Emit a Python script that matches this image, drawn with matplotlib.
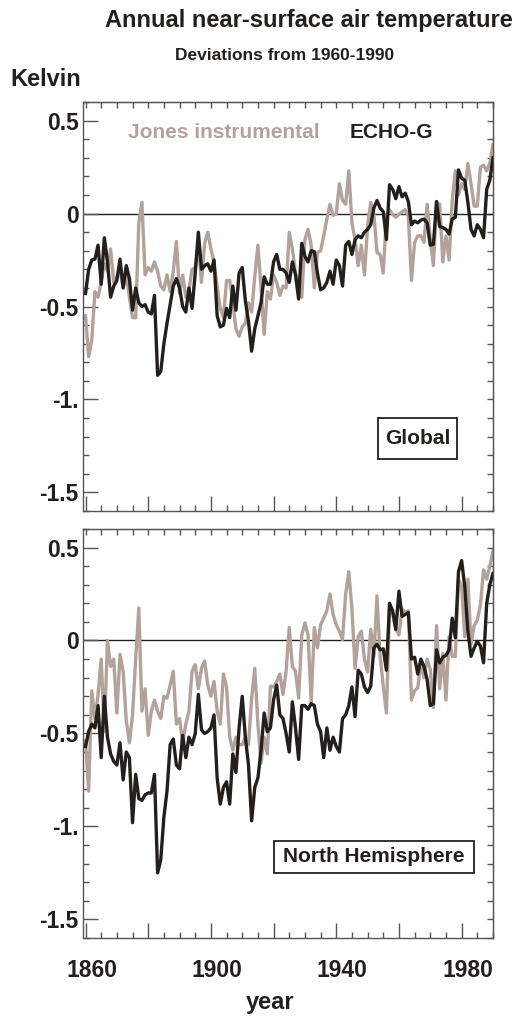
import numpy as np
import matplotlib
matplotlib.use("Agg")
from matplotlib import pyplot as plt
import matplotlib.transforms as mtransforms
from matplotlib.patches import Rectangle

plt.rcParams['font.family'] = ['Liberation Sans', 'DejaVu Sans']
plt.rcParams['font.weight'] = 'bold'

years = np.arange(1860, 1991)

# global, Jones instrumental (grey)
glob_jones = [
    -0.55, -0.77, -0.68, -0.42, -0.45, -0.37, -0.27, -0.31, -0.19, -0.37,   # 1860s
    -0.34, -0.30, -0.40, -0.33, -0.45, -0.56, -0.56, -0.05, 0.06, -0.33,    # 1870s
    -0.29, -0.31, -0.26, -0.31, -0.39, -0.41, -0.33, -0.42, -0.31, -0.15,   # 1880s
    -0.43, -0.33, -0.45, -0.41, -0.30, -0.29, -0.16, -0.37, -0.16, -0.10,   # 1890s
    -0.19, -0.26, -0.39, -0.51, -0.56, -0.36, -0.36, -0.48, -0.62, -0.66,   # 1900s
    -0.61, -0.59, -0.48, -0.53, -0.34, -0.17, -0.40, -0.65, -0.42, -0.46,   # 1910s
    -0.33, -0.37, -0.44, -0.39, -0.40, -0.10, -0.19, -0.32, -0.37, -0.45,   # 1920s
    -0.14, -0.085, -0.17, -0.40, -0.21, -0.20, -0.12, -0.03, 0.05, -0.01,   # 1930s
    0.00, 0.16, 0.07, 0.05, 0.23, -0.05, -0.14, -0.28, -0.17, -0.33,        # 1940s
    -0.07, 0.06, 0.00, -0.21, -0.22, -0.32, -0.01, 0.02, -0.005, -0.02,     # 1950s
    -0.005, 0.01, 0.02, -0.015, -0.36, -0.155, -0.12, -0.12, -0.155, 0.05,  # 1960s
    -0.14, -0.28, 0.06, 0.05, -0.26, -0.12, -0.25, 0.07, 0.23, 0.10,        # 1970s
    0.16, 0.13, 0.27, 0.16, 0.04, 0.04, 0.25, 0.26, 0.23, 0.27,             # 1980s
    0.37]

# global, ECHO-G (black)
glob_echo = [
    -0.43, -0.30, -0.25, -0.245, -0.17, -0.38, -0.13, -0.26, -0.45, -0.39,
    -0.36, -0.245, -0.40, -0.28, -0.35, -0.52, -0.40, -0.48, -0.50, -0.49,
    -0.53, -0.54, -0.44, -0.87, -0.85, -0.70, -0.59, -0.49, -0.39, -0.35,
    -0.40, -0.50, -0.53, -0.40, -0.51, -0.32, -0.10, -0.30, -0.28, -0.27,
    -0.31, -0.25, -0.55, -0.61, -0.60, -0.51, -0.56, -0.39, -0.52, -0.32,
    -0.29, -0.47, -0.58, -0.74, -0.62, -0.55, -0.48, -0.34, -0.38, -0.38,
    -0.26, -0.22, -0.30, -0.30, -0.32, -0.37, -0.26, -0.33, -0.46, -0.16,
    -0.23, -0.26, -0.20, -0.205, -0.32, -0.41, -0.40, -0.37, -0.31, -0.38,
    -0.25, -0.28, -0.39, -0.17, -0.15, -0.22, -0.14, -0.12, -0.13, -0.10,
    -0.085, -0.06, 0.03, 0.07, 0.03, 0.01, -0.14, 0.155, 0.13, 0.08,
    0.145, 0.09, 0.11, 0.065, -0.06, -0.04, -0.05, -0.035, -0.03, -0.05,
    -0.17, -0.165, 0.065, -0.07, -0.075, -0.085, -0.11, -0.03, -0.02, 0.235,
    0.19, 0.18, 0.06, -0.085, -0.12, -0.06, -0.085, -0.13, 0.13, 0.18,
    0.30]

# north hemisphere, Jones instrumental (grey)
nh_jones = [
    -0.54, -0.81, -0.27, -0.42, -0.29, -0.10, -0.49, 0.00, -0.14, -0.10,
    -0.39, -0.075, -0.165, -0.43, -0.55, -0.40, -0.10, 0.175, -0.38, -0.26,
    -0.51, -0.38, -0.32, -0.38, -0.42, -0.30, -0.31, -0.24, -0.165, -0.45,
    -0.42, -0.55, -0.45, -0.38, -0.165, -0.13, -0.26, -0.15, -0.11, -0.24,
    -0.30, -0.22, -0.38, -0.45, -0.18, -0.25, -0.52, -0.59, -0.52, -0.56,
    -0.56, -0.52, -0.56, -0.31, -0.15, -0.45, -0.66, -0.52, -0.61, -0.245,
    -0.25, -0.22, -0.18, -0.29, -0.165, 0.07, -0.14, -0.165, -0.31, 0.03,
    0.095, 0.03, -0.33, 0.07, -0.04, 0.085, 0.12, 0.16, 0.25, 0.14,
    0.085, 0.05, 0.005, 0.25, 0.37, 0.17, -0.15, 0.02, 0.05, -0.10,
    -0.17, 0.06, -0.085, 0.24, -0.085, -0.245, -0.39, 0.17, 0.14, 0.06,
    0.03, 0.17, 0.15, 0.16, -0.32, -0.27, -0.255, -0.12, -0.20, -0.10,
    -0.155, -0.36, 0.08, -0.26, -0.07, -0.32, 0.02, -0.085, -0.085, 0.33,
    0.29, 0.02, 0.33, -0.02, 0.08, 0.11, 0.19, 0.38, 0.33, 0.40,
    0.48]

# north hemisphere, ECHO-G (black)
nh_echo = [
    -0.57, -0.49, -0.45, -0.47, -0.35, -0.63, -0.30, -0.52, -0.61, -0.65,
    -0.67, -0.55, -0.75, -0.60, -0.63, -0.98, -0.72, -0.85, -0.86, -0.83,
    -0.82, -0.82, -0.72, -1.25, -1.18, -0.95, -0.81, -0.56, -0.53, -0.67,
    -0.69, -0.51, -0.63, -0.52, -0.56, -0.50, -0.29, -0.48, -0.50, -0.49,
    -0.47, -0.40, -0.74, -0.88, -0.79, -0.76, -0.88, -0.61, -0.71, -0.47,
    -0.30, -0.52, -0.67, -0.97, -0.79, -0.74, -0.59, -0.39, -0.49, -0.47,
    -0.32, -0.24, -0.40, -0.42, -0.50, -0.60, -0.33, -0.47, -0.64, -0.35,
    -0.35, -0.37, -0.34, -0.35, -0.45, -0.49, -0.63, -0.47, -0.59, -0.52,
    -0.57, -0.60, -0.42, -0.40, -0.35, -0.25, -0.41, -0.16, -0.18, -0.25,
    -0.28, -0.245, -0.04, -0.02, -0.05, -0.045, -0.16, 0.20, 0.16, 0.06,
    0.265, 0.13, 0.14, 0.15, -0.10, -0.09, -0.18, -0.10, -0.14, -0.21,
    -0.35, -0.34, -0.05, -0.12, -0.09, -0.08, -0.05, 0.12, 0.015, 0.37,
    0.43, 0.29, 0.05, -0.085, -0.04, -0.005, -0.03, -0.12, 0.20, 0.30,
    0.36]

ytick_vals = [0.5, 0, -0.5, -1.0, -1.5]
ytick_labels = ["0.5", "0", "-0.5", "-1.", "-1.5"]
xtick_labels = ["1860", "", "1900", "", "1940", "", "1980"]

ink = '#231f1c'
grey = '#b3a29c'
frame = '#555555'

W, H = 515, 1017
fig = plt.figure(figsize=(W / 100, H / 100), dpi=100)
ax_top = fig.add_axes([0.1612, 0.4975, 0.796, 0.4022])
ax_bot = fig.add_axes([0.1612, 0.0777, 0.796, 0.4022])


def style_panel(ax, show_x):
    ax.axhline(0, color=ink, lw=1.0, zorder=1)
    ax.set_xlim(1859.2, 1990)
    ax.set_ylim(-1.6, 0.6)
    for s in ax.spines.values():
        s.set_color(frame)
        s.set_linewidth(1.0)
    ax.set_yticks(ytick_vals)
    ax.set_yticklabels(ytick_labels)
    ax.set_yticks(np.arange(-1.6, 0.61, 0.1), minor=True)
    ax.set_xticks(np.arange(1860, 1990, 20))
    ax.set_xticks(np.arange(1860, 1991, 5), minor=True)
    ax.tick_params(which='both', direction='in', color=frame, width=1.0,
                   top=False, right=False, labelsize=16.5)
    ax.tick_params(axis='y', which='major', length=11, pad=3, labelcolor=ink)
    ax.tick_params(axis='y', which='minor', length=4)
    ax.tick_params(axis='x', which='major', length=11, pad=15, labelcolor=ink)
    ax.tick_params(axis='x', which='minor', length=4)
    if show_x:
        ax.set_xticklabels(xtick_labels)
        off = mtransforms.ScaledTranslation(6 / 100, 0, fig.dpi_scale_trans)
        for lab in ax.get_xticklabels():
            lab.set_transform(lab.get_transform() + off)
    else:
        ax.set_xticklabels([])
    # short ticks on the top and right sides
    tx = ax.secondary_xaxis('top')
    tx.set_xticks(np.arange(1860, 1991, 5))
    tx.tick_params(direction='in', length=4, color=frame, width=1.0,
                   labeltop=False)
    tx.spines['top'].set_color(frame)
    ty = ax.secondary_yaxis('right')
    ty.set_yticks(np.arange(-1.6, 0.61, 0.1))
    ty.tick_params(direction='in', length=4, color=frame, width=1.0,
                   labelright=False)
    ty.spines['right'].set_color(frame)


def label_box(x0, y0, x1, y1, text):
    # pixel box measured from the top-left corner of the figure
    fig.patches.append(Rectangle((x0 / W, 1 - y1 / H), (x1 - x0) / W, (y1 - y0) / H,
                                 transform=fig.transFigure, fc='white', ec=ink,
                                 lw=1.3, zorder=5))
    fig.text((x0 + x1) / 2 / W, 1 - (y0 + y1) / 2 / H, text, color=ink,
             fontsize=15, fontweight='bold', ha='center', va='center', zorder=6)


ax_top.plot(years, glob_jones, color=grey, lw=2.4, zorder=2)
ax_top.plot(years, glob_echo, color=ink, lw=2.4, zorder=3)
style_panel(ax_top, False)

ax_bot.plot(years, nh_jones, color=grey, lw=2.4, zorder=2)
ax_bot.plot(years, nh_echo, color=ink, lw=2.4, zorder=3)
style_panel(ax_bot, True)

fig.text(128 / W, 1 - 132 / H, "Jones instrumental",
         color=grey, fontsize=15, fontweight='bold', ha='left', va='center')
fig.text(350 / W, 1 - 132 / H, "ECHO-G",
         color=ink, fontsize=15, fontweight='bold', ha='left', va='center')

label_box(378, 418, 457, 459, "Global")
label_box(274, 841, 474, 873, "North Hemisphere")

fig.text(513 / W, 1 - 21 / H, "Annual near-surface air temperature",
         color=ink, fontsize=17, fontweight='bold', ha='right', va='center')
fig.text(285 / W, 1 - 55 / H, "Deviations from 1960-1990",
         color=ink, fontsize=12.5, fontweight='bold', ha='center', va='center')
fig.text(10 / W, 1 - 80 / H, "Kelvin",
         color=ink, fontsize=17, fontweight='bold', ha='left', va='center')
fig.text(270 / W, 1 - 1003 / H, "year",
         color=ink, fontsize=17, fontweight='bold', ha='center', va='center')

fig.savefig("out.png", dpi=100)
